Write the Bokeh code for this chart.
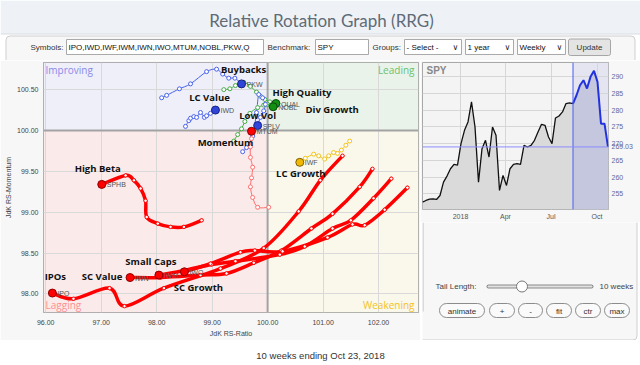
import numpy as np
import pandas as pd
from bokeh.plotting import figure
from bokeh.layouts import column, row
from bokeh.models import Range1d, FixedTicker, PrintfTickFormatter, Span, Label
from bokeh.core.properties import value
from bokeh.embed import file_html
from bokeh.resources import INLINE

# ---------------- data: RRG tails (oldest -> latest week) ----------------
PKW_X = [98.09, 98.18, 98.41, 98.61, 98.90, 99.08, 99.19, 99.30, 99.41, 99.53]
PKW_Y = [100.40, 100.43, 100.51, 100.57, 100.72, 100.75, 100.69, 100.64, 100.64, 100.57]
IWD_X = [98.52, 98.58, 98.61, 98.67, 98.72, 98.79, 98.86, 98.90, 98.97, 99.06]
IWD_Y = [100.05, 100.12, 100.15, 100.17, 100.16, 100.22, 100.16, 100.18, 100.21, 100.25]
QUAL_X = [99.21, 99.32, 99.42, 99.57, 99.69, 99.80, 99.87, 99.95, 100.04, 100.15]
QUAL_Y = [100.50, 100.51, 100.55, 100.59, 100.54, 100.47, 100.42, 100.38, 100.35, 100.33]
NOBL_X = [99.39, 99.46, 99.53, 99.59, 99.68, 99.82, 99.93, 100.00, 100.05, 100.10]
NOBL_Y = [99.87, 99.95, 100.02, 100.11, 100.21, 100.28, 100.31, 100.32, 100.31, 100.29]
SPLV_X = [99.55, 99.62, 99.73, 99.80, 99.84, 99.91, 99.96, 99.93, 99.87, 99.82]
SPLV_Y = [99.74, 99.79, 99.93, 100.22, 100.44, 100.40, 100.32, 100.24, 100.16, 100.06]
MTUM_X = [100.02, 99.82, 99.73, 99.69, 99.71, 99.73, 99.69, 99.69, 99.71, 99.71]
MTUM_Y = [99.06, 99.06, 99.18, 99.31, 99.42, 99.55, 99.67, 99.80, 99.90, 99.99]
IWF_X = [101.48, 101.41, 101.33, 101.26, 101.19, 101.10, 101.03, 100.92, 100.83, 100.68, 100.58]
IWF_Y = [99.87, 99.82, 99.76, 99.72, 99.73, 99.69, 99.65, 99.69, 99.71, 99.66, 99.61]
SPHB_X = [98.81, 98.49, 98.25, 98.02, 97.82, 97.80, 97.71, 97.59, 97.44, 97.01]
SPHB_Y = [98.90, 98.82, 98.82, 98.86, 98.94, 99.14, 99.29, 99.39, 99.45, 99.34]
IPO_X = [101.35, 100.95, 100.56, 99.93, 99.15, 98.13, 97.42, 97.15, 96.50, 96.12]
IPO_Y = [99.69, 99.39, 99.01, 98.56, 98.31, 98.07, 97.85, 98.07, 97.94, 98.01]
IWN_X = [101.89, 101.66, 101.17, 100.79, 100.25, 99.75, 99.26, 98.79, 98.07, 97.52]
IWN_Y = [99.53, 99.31, 98.98, 98.80, 98.53, 98.38, 98.25, 98.23, 98.20, 98.20]
IWM_X = [102.23, 101.91, 101.50, 101.17, 100.67, 100.22, 99.42, 98.99, 98.52, 98.04]
IWM_Y = [99.41, 99.17, 98.90, 98.80, 98.58, 98.48, 98.40, 98.36, 98.29, 98.23]
IWO_X = [102.52, 102.11, 101.75, 101.53, 101.08, 100.27, 99.77, 99.51, 98.97, 98.50]
IWO_Y = [99.30, 99.03, 98.84, 98.85, 98.69, 98.52, 98.53, 98.51, 98.37, 98.27]

TICKERS = ["PKW", "IWD", "QUAL", "NOBL", "SPLV", "MTUM", "IWF",
           "SPHB", "IPO", "IWN", "IWM", "IWO"]
NAMES = ["Buybacks", "LC Value", "High Quality", "Div Growth", "Low Vol", "Momentum",
         "LC Growth", "High Beta", "IPOs", "SC Value", "Small Caps", "SC Growth"]
SERIES = {"PKW": (PKW_X, PKW_Y), "IWD": (IWD_X, IWD_Y), "QUAL": (QUAL_X, QUAL_Y),
          "NOBL": (NOBL_X, NOBL_Y), "SPLV": (SPLV_X, SPLV_Y), "MTUM": (MTUM_X, MTUM_Y),
          "IWF": (IWF_X, IWF_Y), "SPHB": (SPHB_X, SPHB_Y), "IPO": (IPO_X, IPO_Y),
          "IWN": (IWN_X, IWN_Y), "IWM": (IWM_X, IWM_Y), "IWO": (IWO_X, IWO_Y)}

RATIO_TICKS = [96, 97, 98, 99, 100, 101, 102]
MOM_TICKS = [98.0, 98.5, 99.0, 99.5, 100.0, 100.5]

# ---------------- data: SPY weekly closes ----------------
SPY_START = "2017-10-17"
SPY_CLOSE = [252.5, 253.0, 253.4, 253.5, 253.3, 254.5, 258.5, 260.3, 262.5, 263.8,
             263.6, 270.0, 274.0, 276.5, 282.5, 275.0, 258.5, 268.5, 271.0, 266.0,
             275.0, 272.5, 256.0, 260.5, 257.5, 262.5, 263.8, 264.0, 263.8, 269.5,
             269.0, 269.5, 271.0, 273.5, 275.8, 275.5, 272.0, 270.0, 277.7, 278.3,
             279.5, 282.0, 282.2, 282.0, 284.5, 287.5, 289.0, 286.5, 290.0, 291.8,
             288.5, 276.0, 276.0, 269.03]
SPY_LAST = 269.03
SPY_TICKS = [255, 260, 265, 270, 275, 280, 285, 290]
SPY_MONTHS = ["2018-01-01", "2018-04-01", "2018-07-01", "2018-10-01"]
SPY_MONTH_LABELS = ["2018", "Apr", "Jul", "Oct"]
TAIL_WEEKS = 10

# ---------------- styles ----------------
BLUE = ("#4a63ee", "#2f45d8", "#15208a")
GREEN = ("#45aa45", "#119011", "#0a4a0a")
GOLD = ("#f3c21a", "#f0b800", "#806000")
PINK = ("#ff6f6f", "#ff0000", "#8a0000")
RED = ("#ff0000", "#ff0000", "#8a0000")
STYLE = {"PKW": (BLUE, 1.0), "IWD": (BLUE, 1.0), "SPLV": (BLUE, 1.0),
         "QUAL": (GREEN, 1.0), "NOBL": (GREEN, 1.0), "IWF": (GOLD, 1.0),
         "MTUM": (PINK, 1.0), "SPHB": (RED, 3.5), "IPO": (RED, 3.5),
         "IWN": (RED, 3.5), "IWM": (RED, 3.5), "IWO": (RED, 3.5)}
NAME_OFFSETS = {"PKW": (2, -14), "IWD": (-6, -13), "QUAL": (26, -11), "NOBL": (59, 3),
                "SPLV": (0, -10), "MTUM": (-26, 11), "IWF": (1, 11), "SPHB": (-4, -16),
                "IPO": (3, -17), "IWN": (-28, -1), "IWM": (-8, -14), "IWO": (14, 16)}

PANEL = "#f7f7f8"
SANS = value("Liberation Sans")


def cr_bezier(xs, ys):
    x = np.asarray(xs, float)
    y = np.asarray(ys, float)
    px = np.concatenate([x[:1], x, x[-1:]])
    py = np.concatenate([y[:1], y, y[-1:]])
    i = np.arange(len(x) - 1)
    return dict(x0=px[i + 1], y0=py[i + 1], x1=px[i + 2], y1=py[i + 2],
                cx0=px[i + 1] + (px[i + 2] - px[i]) / 6, cy0=py[i + 1] + (py[i + 2] - py[i]) / 6,
                cx1=px[i + 2] - (px[i + 3] - px[i + 1]) / 6, cy1=py[i + 2] - (py[i + 3] - py[i + 1]) / 6)


def blank(width, height, xr, yr, bg):
    f = figure(frame_width=width, frame_height=height, x_range=Range1d(*xr), y_range=Range1d(*yr),
               x_axis_location=None, y_axis_location=None, min_border=0,
               toolbar_location=None, output_backend="svg")
    f.grid.visible = False
    f.outline_line_color = None
    f.background_fill_color = bg
    f.border_fill_color = bg
    return f


def rquad(f, l, r, t, b, fill, line, radius=0, lw=1):
    try:
        f.quad(left=l, right=r, top=t, bottom=b, fill_color=fill, line_color=line,
               line_width=lw, border_radius=radius)
    except Exception:
        f.quad(left=l, right=r, top=t, bottom=b, fill_color=fill, line_color=line, line_width=lw)


def txt(f, x, y, s, size="8px", color="#333333", align="left", font=SANS, style="normal"):
    f.text(x=[x], y=[y], text=[s], text_font=font, text_font_size=size, text_color=color,
           text_align=align, text_baseline="middle", text_font_style=style)


def style_axis(ax, standoff):
    ax.major_label_text_font = "Liberation Sans"
    ax.major_label_text_font_size = "7px"
    ax.major_label_text_color = "#444444"
    ax.axis_line_color = None
    ax.major_tick_line_color = None
    ax.minor_tick_line_color = None
    ax.major_tick_out = 0
    ax.major_tick_in = 0
    ax.minor_tick_out = 0
    ax.minor_tick_in = 0
    ax.major_label_standoff = standoff


# ---------------- header (page coords) ----------------
head = blank(640, 60, (0, 640), (60, 0), "white")
head.quad(left=0, right=640, top=0, bottom=33.5, fill_color="#eef2f6", line_color=None)
head.segment(x0=[0], y0=[33.5], x1=[640], y1=[33.5], line_color="#d8dee4", line_width=1)
rquad(head, 5.5, 634.5, 35.5, 90, PANEL, "#cfcfcf", radius=4)
txt(head, 321, 19.5, "Relative Rotation Graph (RRG)", size="17px", color="#5f6b77",
    align="center", font=value("Lato"))
ctrl_y = 46.5
txt(head, 30, ctrl_y, "Symbols:")
rquad(head, 66, 263, 39, 54, "white", "#a9a9a9")
txt(head, 68, ctrl_y, "IPO,IWD,IWF,IWM,IWN,IWO,MTUM,NOBL,PKW,Q", color="#111111")
txt(head, 267, ctrl_y, "Benchmark:")
rquad(head, 315, 368, 39, 54, "white", "#a9a9a9")
txt(head, 317, ctrl_y, "SPY", color="#111111")
txt(head, 372, ctrl_y, "Groups:")
for l, r, s in [(404, 461, "- Select -"), (465, 513, "1 year"), (517, 565, "Weekly")]:
    rquad(head, l, r, 39, 54, "white", "#a9a9a9")
    txt(head, l + 2, ctrl_y, s, color="#111111")
    txt(head, r - 6, ctrl_y, "\u2228", size="8px", color="#222222", align="center",
        font=value("DejaVu Sans"))
rquad(head, 568, 610, 38.5, 55, "#e4e4e4", "#a6a6a6", radius=2)
txt(head, 589, ctrl_y, "Update", color="#333333", align="center")

# ---------------- RRG chart ----------------
rrg = figure(frame_width=375, frame_height=250, x_range=Range1d(95.96, 102.72),
             y_range=Range1d(97.772, 100.832), min_border_left=43, min_border_right=2,
             min_border_top=2, min_border_bottom=28, toolbar_location=None,
             output_backend="svg")
rrg.background_fill_color = "white"
rrg.border_fill_color = PANEL
rrg.outline_line_color = "#9a9a9a"
x0r, x1r = rrg.x_range.start, rrg.x_range.end
y0r, y1r = rrg.y_range.start, rrg.y_range.end
for l, r, b, t, c in [(x0r, 100, 100, y1r, "#eeeff9"), (100, x1r, 100, y1r, "#e9f3ea"),
                      (x0r, 100, y0r, 100, "#faeaea"), (100, x1r, y0r, 100, "#faf8eb")]:
    rrg.quad(left=l, right=r, bottom=b, top=t, fill_color=c, line_color=None, level="image")
for ax, ticks, lab in [(rrg.xaxis, RATIO_TICKS, "JdK RS-Ratio"), (rrg.yaxis, MOM_TICKS, "JdK RS-Momentum")]:
    ax.ticker = FixedTicker(ticks=ticks)
    ax.formatter = PrintfTickFormatter(format="%.2f")
    ax.axis_label = lab
    ax.axis_label_text_font = "Liberation Sans"
    ax.axis_label_text_font_size = "7px"
    ax.axis_label_text_font_style = "normal"
    ax.axis_label_text_color = "#444444"
    ax.axis_label_standoff = 2
style_axis(rrg.xaxis, 7)
style_axis(rrg.yaxis, 5)
rrg.xgrid.ticker = FixedTicker(ticks=RATIO_TICKS)
rrg.ygrid.ticker = FixedTicker(ticks=MOM_TICKS)
rrg.grid.grid_line_color = "#d9d9d9"
rrg.add_layout(Span(location=100, dimension="height", line_color="#a3a3a3", line_width=2, level="underlay"))
rrg.add_layout(Span(location=100, dimension="width", line_color="#a3a3a3", line_width=2, level="underlay"))

for s, c, al, yo, xo, base in [("Improving", "#8a8ae8", "left", y1r, x0r, "top"),
                                ("Leading", "#6fc06f", "right", y1r, x1r, "top"),
                                ("Lagging", "#ff8f8f", "left", y0r, x0r, "bottom"),
                                ("Weakening", "#f5c21a", "right", y0r, x1r, "bottom")]:
    rrg.add_layout(Label(x=xo, y=yo, text=s, x_offset=2 if al == "left" else -4,
                         y_offset=0 if base == "top" else 1, text_align=al,
                         text_baseline=base, text_font="Open Sans", text_font_size="10px",
                         text_color=c))

thin = [t for t in TICKERS if STYLE[t][1] < 2]
thick = [t for t in TICKERS if STYLE[t][1] >= 2]
for t in thin + thick:
    (lc, hc, oc), lw = STYLE[t]
    xs, ys = SERIES[t]
    rrg.bezier(**cr_bezier(xs, ys), line_color=lc, line_width=lw, line_cap="round")
for t in thin + thick:
    (lc, hc, oc), lw = STYLE[t]
    xs, ys = SERIES[t]
    rrg.scatter(xs[:-1], ys[:-1], size=4 if lw < 2 else 3.5, fill_color="white",
                line_color=lc, line_width=1)
for t in TICKERS:
    (lc, hc, oc), lw = STYLE[t]
    xs, ys = SERIES[t]
    rrg.scatter([xs[-1]], [ys[-1]], size=8, fill_color=hc, line_color=oc, line_width=1)
    rrg.text(x=[xs[-1]], y=[ys[-1]], text=[t], x_offset=5, y_offset=0.5, text_font=SANS,
             text_font_size="7px", text_color="#555555", text_baseline="middle")
for t, n in zip(TICKERS, NAMES):
    xs, ys = SERIES[t]
    dx, dy = NAME_OFFSETS[t]
    rrg.text(x=[xs[-1]], y=[ys[-1]], text=[n], x_offset=dx, y_offset=dy,
             text_font=value("Open Sans"), text_font_size="9.5px", text_font_style="bold",
             text_color="#111111", text_align="center", text_baseline="middle")

# ---------------- SPY chart ----------------
dates = pd.date_range(SPY_START, periods=len(SPY_CLOSE), freq="7D")
close = np.array(SPY_CLOSE)
k = len(close) - 1 - TAIL_WEEKS
spy = figure(frame_width=186, frame_height=147, x_axis_type="datetime", y_axis_location="right",
             x_range=Range1d(dates[0], dates[-1] + pd.Timedelta(days=1)),
             y_range=Range1d(250.3, 294.3), min_border_left=2, min_border_right=32,
             min_border_top=2, min_border_bottom=13, toolbar_location=None,
             output_backend="svg")
spy.background_fill_color = "#f4f4f4"
spy.border_fill_color = PANEL
spy.outline_line_color = "#a8a8a8"
month_ms = [int(pd.Timestamp(d).value // 10**6) for d in SPY_MONTHS]
spy.xaxis.ticker = FixedTicker(ticks=month_ms)
spy.xaxis.major_label_overrides = dict(zip(month_ms, SPY_MONTH_LABELS))
spy.yaxis.ticker = FixedTicker(ticks=SPY_TICKS + [SPY_LAST])
spy.yaxis.major_label_overrides = {SPY_LAST: f"{SPY_LAST:.2f}"}
spy.xgrid.ticker = FixedTicker(ticks=month_ms)
spy.ygrid.ticker = FixedTicker(ticks=SPY_TICKS)
spy.grid.grid_line_color = "#d6d6d6"
style_axis(spy.xaxis, 3)
style_axis(spy.yaxis, 3)
spy.xaxis.major_label_text_color = "#555555"
spy.yaxis.major_label_text_color = "#62679a"
ys0 = spy.y_range.start
spy.quad(left=dates[k], right=spy.x_range.end, bottom=ys0, top=spy.y_range.end,
         fill_color="#e4e5f1", line_color=None, level="image")
spy.varea(x=dates[:k + 1], y1=ys0, y2=close[:k + 1], fill_color="#dadada")
spy.varea(x=dates[k:], y1=ys0, y2=close[k:], fill_color="#c4c7de")
spy.add_layout(Span(location=dates[k], dimension="height", line_color="#4a5cf0", line_width=1))
spy.add_layout(Span(location=SPY_LAST, dimension="width", line_color="#8b8bff", line_width=1))
spy.line(dates[:k + 1], close[:k + 1], line_color="#111111", line_width=1.3)
spy.line(dates[k:], close[k:], line_color="#2233dd", line_width=2)
spy.add_layout(Label(x=float(pd.Timestamp(dates[0]).value // 10**6), y=spy.y_range.end,
                     text="SPY", x_offset=4, y_offset=-2, text_baseline="top",
                     text_font="Liberation Sans", text_font_size="10px",
                     text_font_style="bold", text_color="#888888"))

# ---------------- right controls (page coords) ----------------
ctrl = blank(220, 118, (420, 640), (340, 222), "white")
rquad(ctrl, 380, 634.5, 200, 339.5, PANEL, "#cfcfcf", radius=4)
ctrl.segment(x0=[420.5], y0=[222], x1=[420.5], y1=[311], line_color="#bdbdbd")
txt(ctrl, 433, 286, "Tail Length:", color="#444444")
ctrl.segment(x0=[486], y0=[286], x1=[589], y1=[286], line_color="#8a8a8a", line_width=4, line_cap="round")
ctrl.segment(x0=[486], y0=[286], x1=[589], y1=[286], line_color="#e2e2e2", line_width=2, line_cap="round")
ctrl.scatter([519.5], [286], size=11, fill_color="white", line_color="#777777", line_width=1)
txt(ctrl, 597, 286, "10 weeks", color="#444444")
for l, r, s in [(437, 482, "animate"), (487, 512, "+"), (516, 540, "-"),
                (544, 569, "fit"), (573, 598, "ctr"), (602, 627, "max")]:
    rquad(ctrl, l, r, 303, 317, "#fafafa", "#8c8c8c", radius=7)
    txt(ctrl, (l + r) / 2, 310.5, s, color="#333333", align="center")

# ---------------- footer (page coords) ----------------
foot = blank(640, 24, (0, 640), (364, 340), "white")
txt(foot, 320, 355, "10 weeks ending Oct 23, 2018", size="9.5px", color="#333333", align="center")

layout = column(head, row(rrg, column(spy, ctrl)), foot)
open("out.html", "w").write(file_html(layout, INLINE))
